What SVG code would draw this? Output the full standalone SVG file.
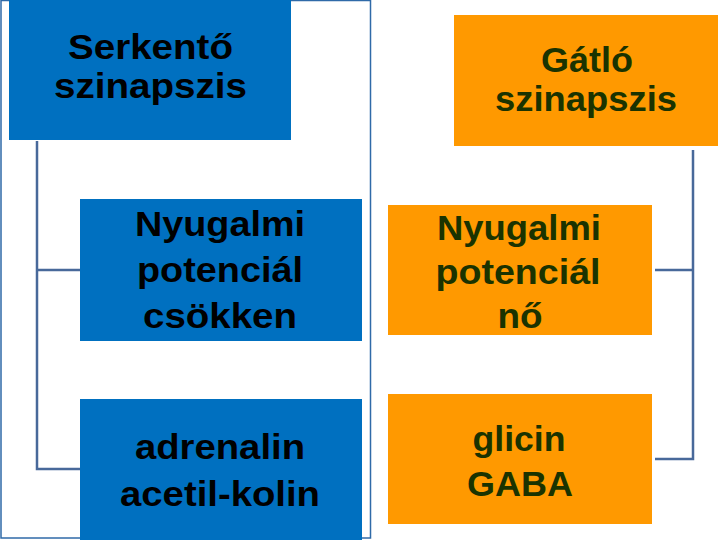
<svg xmlns="http://www.w3.org/2000/svg" width="720" height="540" viewBox="0 0 720 540">
  <style>
    .blue { fill: #0070c0; }
    .orange { fill: #ff9900; }
    .tl { font-family: "Liberation Sans", Arial, sans-serif; font-size: 35px; font-weight: bold; fill: #000000; text-anchor: middle; }
    .tr { font-family: "Liberation Sans", Arial, sans-serif; font-size: 35px; font-weight: bold; fill: #1a3300; text-anchor: middle; }
    .conn { fill: none; stroke: #48699a; stroke-width: 2.5; }
  </style>
  <rect width="720" height="540" fill="#ffffff"/>
  <rect x="1" y="0.5" width="369.5" height="537.5" fill="none" stroke="#2f6aa8" stroke-width="1.5"/>
  <g id="connectors">
    <path class="conn" d="M37 141 V469 H80 M37 270 H80"/>
    <path class="conn" d="M693 150 V459 H655 M693 270 H655"/>
  </g>
  <g id="serkento">
    <rect class="blue" x="9" y="0" width="282" height="140"/>
    <text class="tl"><tspan x="150.5" y="59" textLength="165" lengthAdjust="spacingAndGlyphs">Serkentő</tspan><tspan x="150.5" y="98" textLength="193" lengthAdjust="spacingAndGlyphs">szinapszis</tspan></text>
  </g>
  <g id="nyugalmi-left">
    <rect class="blue" x="80" y="199" width="282" height="142"/>
    <text class="tl"><tspan x="220" y="236" textLength="170" lengthAdjust="spacingAndGlyphs">Nyugalmi</tspan><tspan x="220" y="282" textLength="166" lengthAdjust="spacingAndGlyphs">potenciál</tspan><tspan x="220" y="328" textLength="154" lengthAdjust="spacingAndGlyphs">csökken</tspan></text>
  </g>
  <g id="adrenalin">
    <rect class="blue" x="80" y="399" width="282" height="141"/>
    <text class="tl"><tspan x="220" y="459" textLength="170" lengthAdjust="spacingAndGlyphs">adrenalin</tspan><tspan x="220" y="506" textLength="200" lengthAdjust="spacingAndGlyphs">acetil-kolin</tspan></text>
  </g>
  <g id="gatlo">
    <rect class="orange" x="454" y="15" width="264" height="131"/>
    <text class="tr"><tspan x="587" y="72" textLength="92" lengthAdjust="spacingAndGlyphs">Gátló</tspan><tspan x="586" y="111" textLength="182" lengthAdjust="spacingAndGlyphs">szinapszis</tspan></text>
  </g>
  <g id="nyugalmi-right">
    <rect class="orange" x="388" y="205" width="264" height="130"/>
    <text class="tr"><tspan x="519" y="240" textLength="164" lengthAdjust="spacingAndGlyphs">Nyugalmi</tspan><tspan x="518" y="284" textLength="165" lengthAdjust="spacingAndGlyphs">potenciál</tspan><tspan x="520" y="328" textLength="45" lengthAdjust="spacingAndGlyphs">nő</tspan></text>
  </g>
  <g id="glicin">
    <rect class="orange" x="388" y="394" width="264" height="130"/>
    <text class="tr"><tspan x="519" y="451" textLength="93" lengthAdjust="spacingAndGlyphs">glicin</tspan><tspan x="520" y="496" textLength="106" lengthAdjust="spacingAndGlyphs">GABA</tspan></text>
  </g>
</svg>
